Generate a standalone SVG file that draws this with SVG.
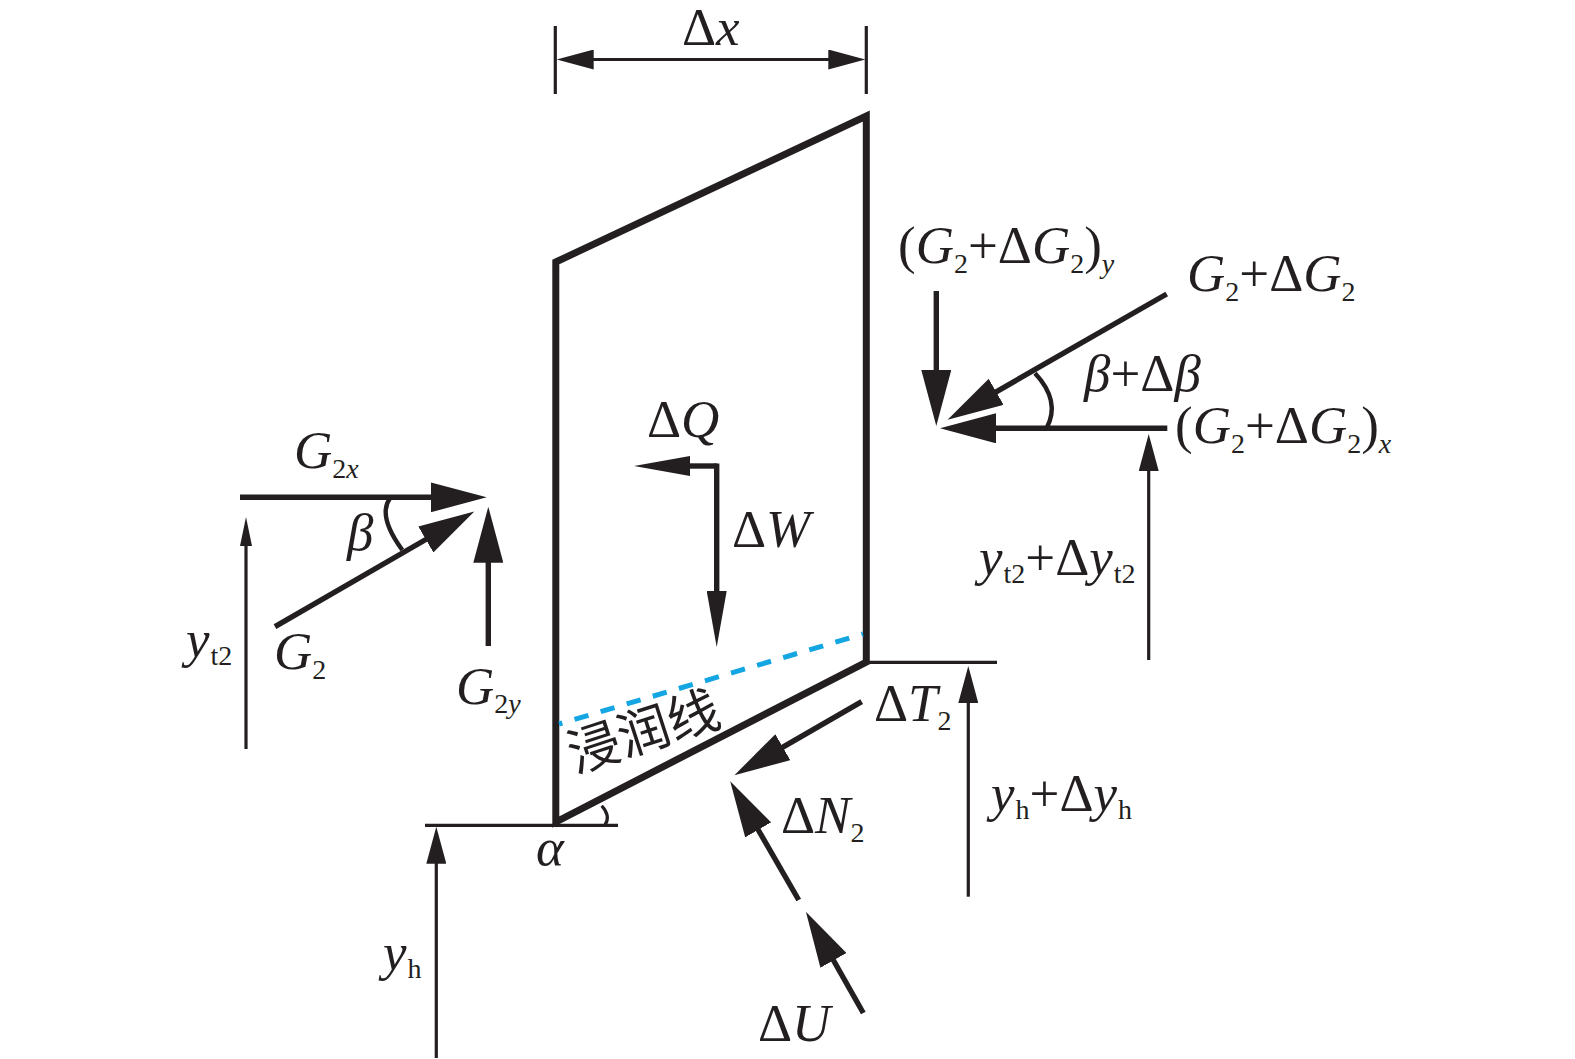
<svg xmlns="http://www.w3.org/2000/svg" width="1575" height="1059" viewBox="0 0 1575 1059">
<style>
text{font-family:"Liberation Serif","Noto Sans CJK SC",serif;font-size:53px;fill:#231f20}
.i{font-style:italic}
.s{font-size:28px}
.cn{font-size:52px}
line,path{fill:none;stroke:#231f20}
.w3{stroke-width:3.2px}
.w5{stroke-width:5.4px}
.big{marker-end:url(#big)}
.med{marker-end:url(#med)}
.sm{marker-end:url(#sm)}
.lng{marker-end:url(#lng)}
.dim{marker-start:url(#dim);marker-end:url(#dim)}
</style>
<defs>
<marker id="big" markerUnits="userSpaceOnUse" markerWidth="58" markerHeight="30" refX="1" refY="15" orient="auto"><polygon points="0,0 56,15 0,30" fill="#231f20"/></marker>
<marker id="med" markerUnits="userSpaceOnUse" markerWidth="38" markerHeight="20" refX="1" refY="10" orient="auto"><polygon points="0,0 37,10 0,20" fill="#231f20"/></marker>
<marker id="sm" markerUnits="userSpaceOnUse" markerWidth="30" markerHeight="12" refX="1" refY="6" orient="auto"><polygon points="0,0 29,6 0,12" fill="#231f20"/></marker>
<marker id="lng" markerUnits="userSpaceOnUse" markerWidth="58" markerHeight="20" refX="1" refY="10" orient="auto"><polygon points="0,0 56,10 0,20" fill="#231f20"/></marker>
<marker id="dim" markerUnits="userSpaceOnUse" markerWidth="38" markerHeight="20" refX="1" refY="10" orient="auto-start-reverse"><polygon points="0,0 37,10 0,20" fill="#231f20"/></marker>
</defs>

<g id="block">
<polygon points="555.8,262 866.3,116 866.3,662 555.8,822" fill="none" stroke="#231f20" stroke-width="7"/>
<line x1="559" y1="724" x2="863" y2="634" style="stroke:#14a5e3;stroke-width:5px;stroke-dasharray:14.5 12.7;stroke-dashoffset:11"/>
</g>

<g id="connectors">
<line class="w3" x1="555.3" y1="26" x2="555.3" y2="94"/>
<line class="w3" x1="866.3" y1="26" x2="866.3" y2="94"/>
<line class="w3 dim" x1="592.7" y1="59.5" x2="829.3" y2="59.5"/>
<line class="w3" x1="425" y1="825.3" x2="618" y2="825.3"/>
<line class="w3" x1="866.7" y1="662.3" x2="997" y2="662.3"/>
<path class="w3" d="M601.7,805.7Q611,816 605,825"/>
<path style="stroke-width:4.4px" d="M390,498.3Q377.2,515.8 402.3,550"/>
<path style="stroke-width:4.4px" d="M1035,373.3Q1061,401 1046.7,428"/>
<line class="w5 big" x1="240" y1="497.3" x2="431.7" y2="497.3"/>
<line class="w5 big" x1="275" y1="626.7" x2="426.7" y2="539"/>
<line class="w5 big" x1="488.3" y1="646" x2="488.3" y2="561.7"/>
<line class="w3 sm" x1="246" y1="749" x2="246" y2="545"/>
<line class="w5 lng" x1="716.7" y1="466" x2="689" y2="466"/>
<line class="w5 lng" x1="716.7" y1="463.4" x2="716.7" y2="592"/>
<line class="w5 big" x1="936.3" y1="291" x2="936.3" y2="371"/>
<line class="w5 big" x1="1166.7" y1="294" x2="995.3" y2="392.3"/>
<line class="w5 big" x1="1167.3" y1="428.3" x2="995" y2="428.3"/>
<line class="w3 med" x1="1148.7" y1="660" x2="1148.7" y2="470"/>
<line class="w3 med" x1="968.3" y1="896.7" x2="968.3" y2="702"/>
<line class="w3 med" x1="436.3" y1="1058" x2="436.3" y2="862.7"/>
<line class="w5 big" x1="861.7" y1="701.7" x2="782" y2="747.7"/>
<line class="w5 big" x1="798.7" y1="900" x2="757.7" y2="829"/>
<line class="w5 big" x1="863.3" y1="1013" x2="833" y2="959.5"/>
</g>

<g id="label-dx"><text x="682" y="44.5">Δ<tspan class="i">x</tspan></text></g>
<g id="label-dq"><text x="647" y="437">Δ<tspan class="i">Q</tspan></text></g>
<g id="label-dw"><text x="732" y="547">Δ<tspan class="i">W</tspan></text></g>
<g id="label-g2x"><text x="294" y="468"><tspan class="i">G</tspan><tspan class="s" dy="10">2</tspan><tspan class="s i">x</tspan></text></g>
<g id="label-beta"><text x="347" y="550" class="i">β</text></g>
<g id="label-yt2"><text x="186" y="657"><tspan class="i">y</tspan><tspan class="s" dy="8" dx="1">t2</tspan></text></g>
<g id="label-g2"><text x="274" y="669"><tspan class="i">G</tspan><tspan class="s" dy="10">2</tspan></text></g>
<g id="label-g2y"><text x="456" y="704"><tspan class="i">G</tspan><tspan class="s" dy="9">2</tspan><tspan class="s i">y</tspan></text></g>
<g id="label-dt2"><text x="874" y="721">Δ<tspan class="i">T</tspan><tspan class="s" dy="9">2</tspan></text></g>
<g id="label-dn2"><text x="781" y="833">Δ<tspan class="i">N</tspan><tspan class="s" dy="9">2</tspan></text></g>
<g id="label-du"><text x="758" y="1041">Δ<tspan class="i">U</tspan></text></g>
<g id="label-alpha"><text x="536" y="865" class="i">α</text></g>
<g id="label-yh"><text x="383" y="970"><tspan class="i">y</tspan><tspan class="s" dy="8" dx="1">h</tspan></text></g>
<g id="label-yhdyh"><text x="991" y="811"><tspan class="i">y</tspan><tspan class="s" dy="8" dx="1">h</tspan><tspan dy="-8">+Δ</tspan><tspan class="i">y</tspan><tspan class="s" dy="8" dx="1">h</tspan></text></g>
<g id="label-yt2dyt2"><text x="979" y="575"><tspan class="i">y</tspan><tspan class="s" dy="8" dx="1">t2</tspan><tspan dy="-8">+Δ</tspan><tspan class="i">y</tspan><tspan class="s" dy="8" dx="1">t2</tspan></text></g>
<g id="label-g2dgy"><text x="898" y="263">(<tspan class="i">G</tspan><tspan class="s" dy="10">2</tspan><tspan dy="-10">+Δ</tspan><tspan class="i">G</tspan><tspan class="s" dy="10">2</tspan><tspan dy="-10">)</tspan><tspan class="s i" dy="10">y</tspan></text></g>
<g id="label-g2dg"><text x="1187" y="291"><tspan class="i">G</tspan><tspan class="s" dy="10">2</tspan><tspan dy="-10">+Δ</tspan><tspan class="i">G</tspan><tspan class="s" dy="10">2</tspan></text></g>
<g id="label-bdb"><text x="1084" y="391"><tspan class="i">β</tspan>+Δ<tspan class="i">β</tspan></text></g>
<g id="label-g2dgx"><text x="1175" y="443">(<tspan class="i">G</tspan><tspan class="s" dy="10">2</tspan><tspan dy="-10">+Δ</tspan><tspan class="i">G</tspan><tspan class="s" dy="10">2</tspan><tspan dy="-10">)</tspan><tspan class="s i" dy="10">x</tspan></text></g>
<g id="label-seepage"><text class="cn" x="643" y="750" text-anchor="middle" transform="rotate(-18 643 730)">浸润线</text></g>
</svg>
